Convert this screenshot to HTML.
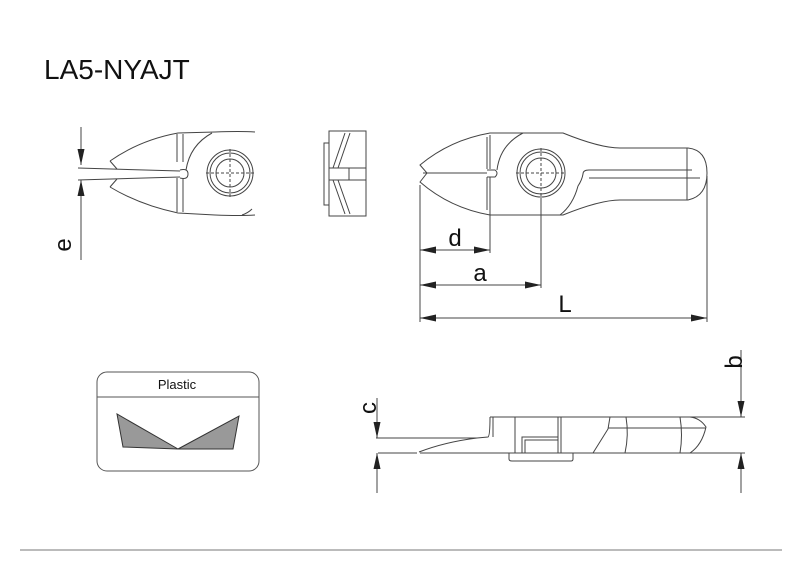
<!DOCTYPE html>
<html><head><meta charset="utf-8"><style>
html,body{margin:0;padding:0;background:#fff;}
svg{display:block;}
</style></head><body>
<svg width="800" height="566" viewBox="0 0 800 566" xmlns="http://www.w3.org/2000/svg" font-family="Liberation Sans, sans-serif">
<defs>
<marker id="ar" viewBox="0 0 16 7" refX="16" refY="3.5" markerWidth="16" markerHeight="7" orient="auto" markerUnits="userSpaceOnUse"><path d="M0,0L16,3.5L0,7z" fill="#222"/></marker>
</defs>
<text x="44" y="79" font-size="28" fill="#111">LA5-NYAJT</text>
<line x1="20" y1="550" x2="782" y2="550" stroke="#bbb" stroke-width="2"/>

<g fill="none" stroke="#444" stroke-width="1">
<!-- front view jaws -->
<line x1="81" y1="127" x2="81" y2="165" marker-end="url(#ar)"/>
<line x1="81" y1="260" x2="81" y2="180" marker-end="url(#ar)"/>
<line x1="78" y1="168" x2="180" y2="171"/>
<line x1="78" y1="180" x2="180" y2="177"/>
<path d="M110,161 Q140,140 178,133 L215,132 Q240,131 255,132"/>
<path d="M110,187 Q140,205 178,213 L215,215 Q240,216 255,215"/>
<path d="M110,161 L117,169"/><path d="M110,187 L117,179"/>
<line x1="177" y1="134" x2="177" y2="162"/><line x1="183" y1="134" x2="183" y2="162"/>
<line x1="177" y1="178" x2="177" y2="212"/><line x1="183" y1="178" x2="183" y2="212"/>
<path d="M180,170 Q188,168 188,174 Q188,180 180,178"/>
<path d="M212,133 Q190,145 186,170"/>
<path d="M252,209 Q248,213 242,215"/>
<circle cx="230" cy="173" r="23"/><circle cx="230" cy="173" r="20"/><circle cx="230" cy="173" r="14"/>
<g stroke-dasharray="3,2"><line x1="206" y1="173" x2="255" y2="173"/><line x1="230" y1="149" x2="230" y2="197"/></g>
<!-- side small view -->
<rect x="329" y="131" width="37" height="85"/>
<rect x="324" y="143" width="5" height="62"/>
<path d="M345,133 L333,168 M350,133 L338,168 M345,214 L333,180 M350,214 L338,180"/>
<line x1="329" y1="168" x2="366" y2="168"/><line x1="329" y1="180" x2="366" y2="180"/>
<line x1="349" y1="168" x2="349" y2="180"/>
<!-- main top view -->
<path d="M420,165 Q450,140 490,133 L563,133 Q600,148 620,148 L688,148 Q707,150 707,173 Q707,196 688,200 L620,200 Q600,200 563,215 L490,215 Q450,208 420,182 L427,173 Z"/>
<line x1="487" y1="137" x2="487" y2="169"/><line x1="490" y1="135" x2="490" y2="169"/>
<line x1="487" y1="177" x2="487" y2="210"/><line x1="490" y1="177" x2="490" y2="212"/>
<path d="M487,170 L495,170 Q499,173 495,177 L487,177"/>
<line x1="423" y1="173" x2="487" y2="173"/>
<path d="M523,133 Q500,145 497,170"/>
<circle cx="541" cy="173" r="24"/><circle cx="541" cy="173" r="21"/><circle cx="541" cy="173" r="15"/>
<g stroke-dasharray="3,2"><line x1="516" y1="173" x2="566" y2="173"/><line x1="541" y1="148" x2="541" y2="198"/></g>
<path d="M692,170 L589,170 Q583,170 583,174 Q582,180 578,186 Q573,205 560,215"/>
<path d="M589,178 L700,178"/>
<line x1="687" y1="148" x2="687" y2="200"/>
<!-- dims top -->
<line x1="420" y1="185" x2="420" y2="322"/>
<line x1="490" y1="212" x2="490" y2="253"/>
<line x1="541" y1="198" x2="541" y2="288"/>
<line x1="707" y1="176" x2="707" y2="322"/>
<line x1="455" y1="250" x2="420" y2="250" marker-end="url(#ar)"/><line x1="455" y1="250" x2="490" y2="250" marker-end="url(#ar)"/>
<line x1="480" y1="285" x2="420" y2="285" marker-end="url(#ar)"/><line x1="480" y1="285" x2="541" y2="285" marker-end="url(#ar)"/>
<line x1="560" y1="318" x2="420" y2="318" marker-end="url(#ar)"/><line x1="560" y1="318" x2="707" y2="318" marker-end="url(#ar)"/>
<!-- bottom side view -->
<line x1="490" y1="417" x2="745" y2="417"/>
<line x1="378" y1="453" x2="417" y2="453"/><line x1="420" y1="453" x2="745" y2="453"/>
<line x1="376" y1="438" x2="477" y2="438"/>
<path d="M419,452 Q445,442 477,438 L488,437 Q490,436 490,417"/>
<line x1="493" y1="417" x2="493" y2="437"/>
<line x1="515" y1="417" x2="515" y2="453"/>
<line x1="558" y1="417" x2="558" y2="453"/><line x1="561" y1="417" x2="561" y2="453"/>
<path d="M522,453 L522,437 L558,437 M525,453 L525,440 L558,440"/>
<path d="M509,453 L509,459 Q509,461 512,461 L571,461 Q573,461 573,459 L573,453"/>
<path d="M593,453 L608,429 L610,417"/>
<line x1="608" y1="428" x2="706" y2="428"/>
<path d="M626,417 Q629,435 625,453"/>
<path d="M680,417 Q683,435 680,453"/>
<path d="M690,417 Q700,418 706,427 Q702,445 690,453"/>
<line x1="377" y1="398" x2="377" y2="438" marker-end="url(#ar)"/>
<line x1="377" y1="493" x2="377" y2="453" marker-end="url(#ar)"/>
<line x1="741" y1="350" x2="741" y2="417" marker-end="url(#ar)"/>
<line x1="741" y1="493" x2="741" y2="453" marker-end="url(#ar)"/>
<!-- plastic box -->
<rect x="97" y="372" width="162" height="99" rx="10" stroke="#555"/>
<line x1="97" y1="397" x2="259" y2="397" stroke="#555"/>
</g>
<polygon points="117,414 123,447 178,449" fill="#999" stroke="#333" stroke-width="1"/>
<polygon points="239,416 233,449 178,449" fill="#999" stroke="#333" stroke-width="1"/>
<text x="177" y="389" font-size="13" text-anchor="middle" fill="#111">Plastic</text>
<g font-size="24" fill="#111" text-anchor="middle">
<text x="455" y="246">d</text>
<text x="480" y="281">a</text>
<text x="565" y="312">L</text>
<text transform="translate(71,245) rotate(-90)">e</text>
<text transform="translate(376,408) rotate(-90)">c</text>
<text transform="translate(742,362) rotate(-90)">b</text>
</g>
</svg>
</body></html>
